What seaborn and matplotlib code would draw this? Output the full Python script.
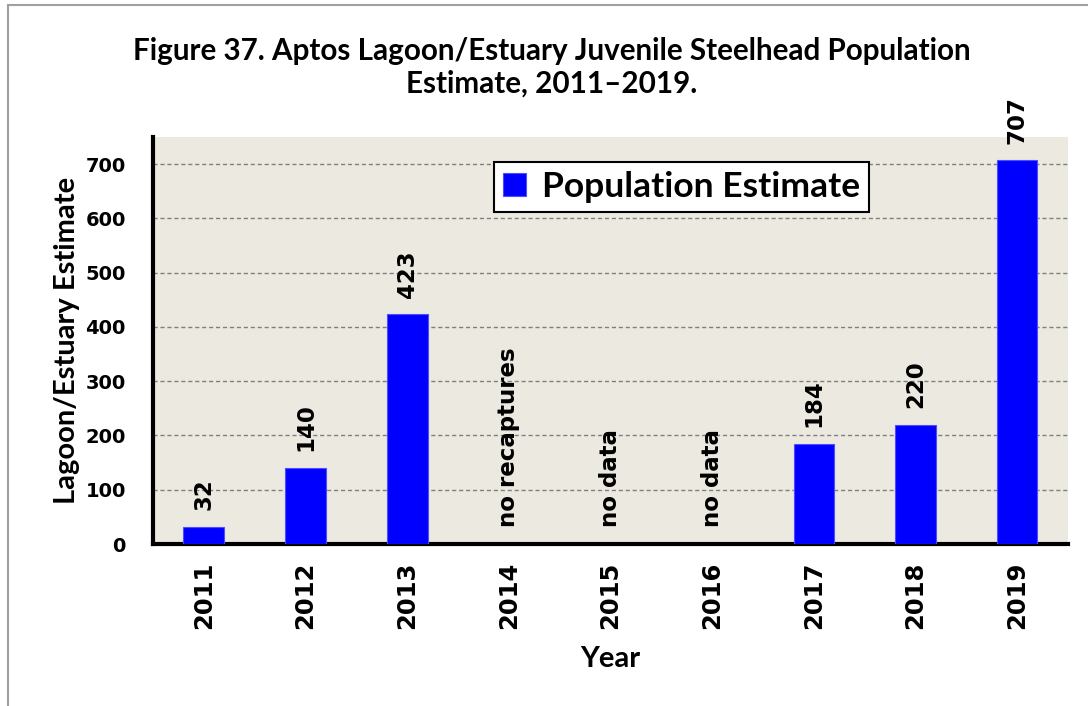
import matplotlib
matplotlib.use("Agg")
import matplotlib.pyplot as plt
import seaborn as sns
import pandas as pd
import numpy as np
from matplotlib.lines import Line2D

years = ["2011", "2012", "2013", "2014", "2015", "2016", "2017", "2018", "2019"]
estimates = [32, 140, 423, np.nan, np.nan, np.nan, 184, 220, 707]
notes = ["32", "140", "423", "no recaptures", "no data", "no data", "184", "220", "707"]
y_ticks = [0, 100, 200, 300, 400, 500, 600, 700]

title = "Figure 37. Aptos Lagoon/Estuary Juvenile Steelhead Population\nEstimate, 2011\u20132019."
ylabel = "Lagoon/Estuary Estimate"
xlabel = "Year"
legend_label = "Population Estimate"

sns.set_theme(style="white")
plt.rcParams["font.family"] = ["DejaVu Sans"]
plt.rcParams["text.color"] = "black"
plt.rcParams["axes.labelcolor"] = "black"
plt.rcParams["xtick.color"] = "black"
plt.rcParams["ytick.color"] = "black"

df = pd.DataFrame({"Year": years, "Estimate": estimates})

fig = plt.figure(figsize=(10.88, 7.06), dpi=100)
ax = fig.add_axes([153 / 1088, 1 - 544 / 706, 915 / 1088, 407 / 706])
ax.set_facecolor("#ECEAE0")

sns.barplot(data=df, x="Year", y="Estimate", color="#0000FF", saturation=1,
            width=0.4, ax=ax, label=legend_label, legend=False, zorder=3)
for p in ax.patches:
    p.set_edgecolor("#4D4DFF")
    p.set_linewidth(0.8)

ax.set_ylim(0, 750)
ax.set_xlim(-0.5, len(years) - 0.5)
ax.set_yticks(y_ticks)
ax.set_yticklabels([str(t) for t in y_ticks], fontsize=14, fontweight="bold")
ax.yaxis.grid(True, linestyle=(0, (3, 2)), color="#808080", linewidth=1, zorder=0)
ax.set_axisbelow(True)

ax.set_xticks(range(len(years)))
ax.set_xticklabels(years, rotation=90, fontsize=17.5, fontweight="bold")
ax.tick_params(axis="x", which="major", length=0, pad=13)
ax.set_xticks(np.arange(-0.5, len(years), 1.0), minor=True)
ax.tick_params(axis="x", which="minor", length=9, width=3, color="black", direction="out")
ax.tick_params(axis="y", which="major", length=9, width=3, color="black", direction="out", pad=10.5)

for s in ["top", "right"]:
    ax.spines[s].set_visible(False)
for s in ["left", "bottom"]:
    ax.spines[s].set_linewidth(3)
    ax.spines[s].set_color("black")

for i, (v, n) in enumerate(zip(estimates, notes)):
    base = 0 if np.isnan(v) else v
    ax.annotate(n, (i, base), xytext=(0, 12), textcoords="offset points",
                rotation=90, ha="center", va="bottom", fontsize=16.5, fontweight="bold")

ax.set_ylabel(ylabel, fontsize=21, fontweight="bold", family=["Lato", "DejaVu Sans"], labelpad=4)
ax.set_xlabel(xlabel, fontsize=21, fontweight="bold", family=["Lato", "DejaVu Sans"], labelpad=12)

leg = ax.legend(loc="center", bbox_to_anchor=(0.5775, 0.877), frameon=True,
                prop={"family": ["Lato", "DejaVu Sans"], "weight": "bold", "size": 25.5},
                handlelength=0.65, handleheight=0.65, handletextpad=0.45, borderpad=0.25,
                borderaxespad=0, fancybox=False, edgecolor="black", framealpha=1)
leg.get_frame().set_linewidth(1.5)

fig.text(0.507, 0.905, title, ha="center", va="center", fontsize=21.3, fontweight="bold",
         family=["Lato", "DejaVu Sans"], linespacing=1.2)

fig.add_artist(Line2D([8 / 1088, 8 / 1088], [0, 1 - 5 / 706], transform=fig.transFigure, color="#A0A0A0", linewidth=1.5))
fig.add_artist(Line2D([8 / 1088, 1], [1 - 5 / 706, 1 - 5 / 706], transform=fig.transFigure, color="#A0A0A0", linewidth=1.5))

fig.savefig("out.png", dpi=100)
